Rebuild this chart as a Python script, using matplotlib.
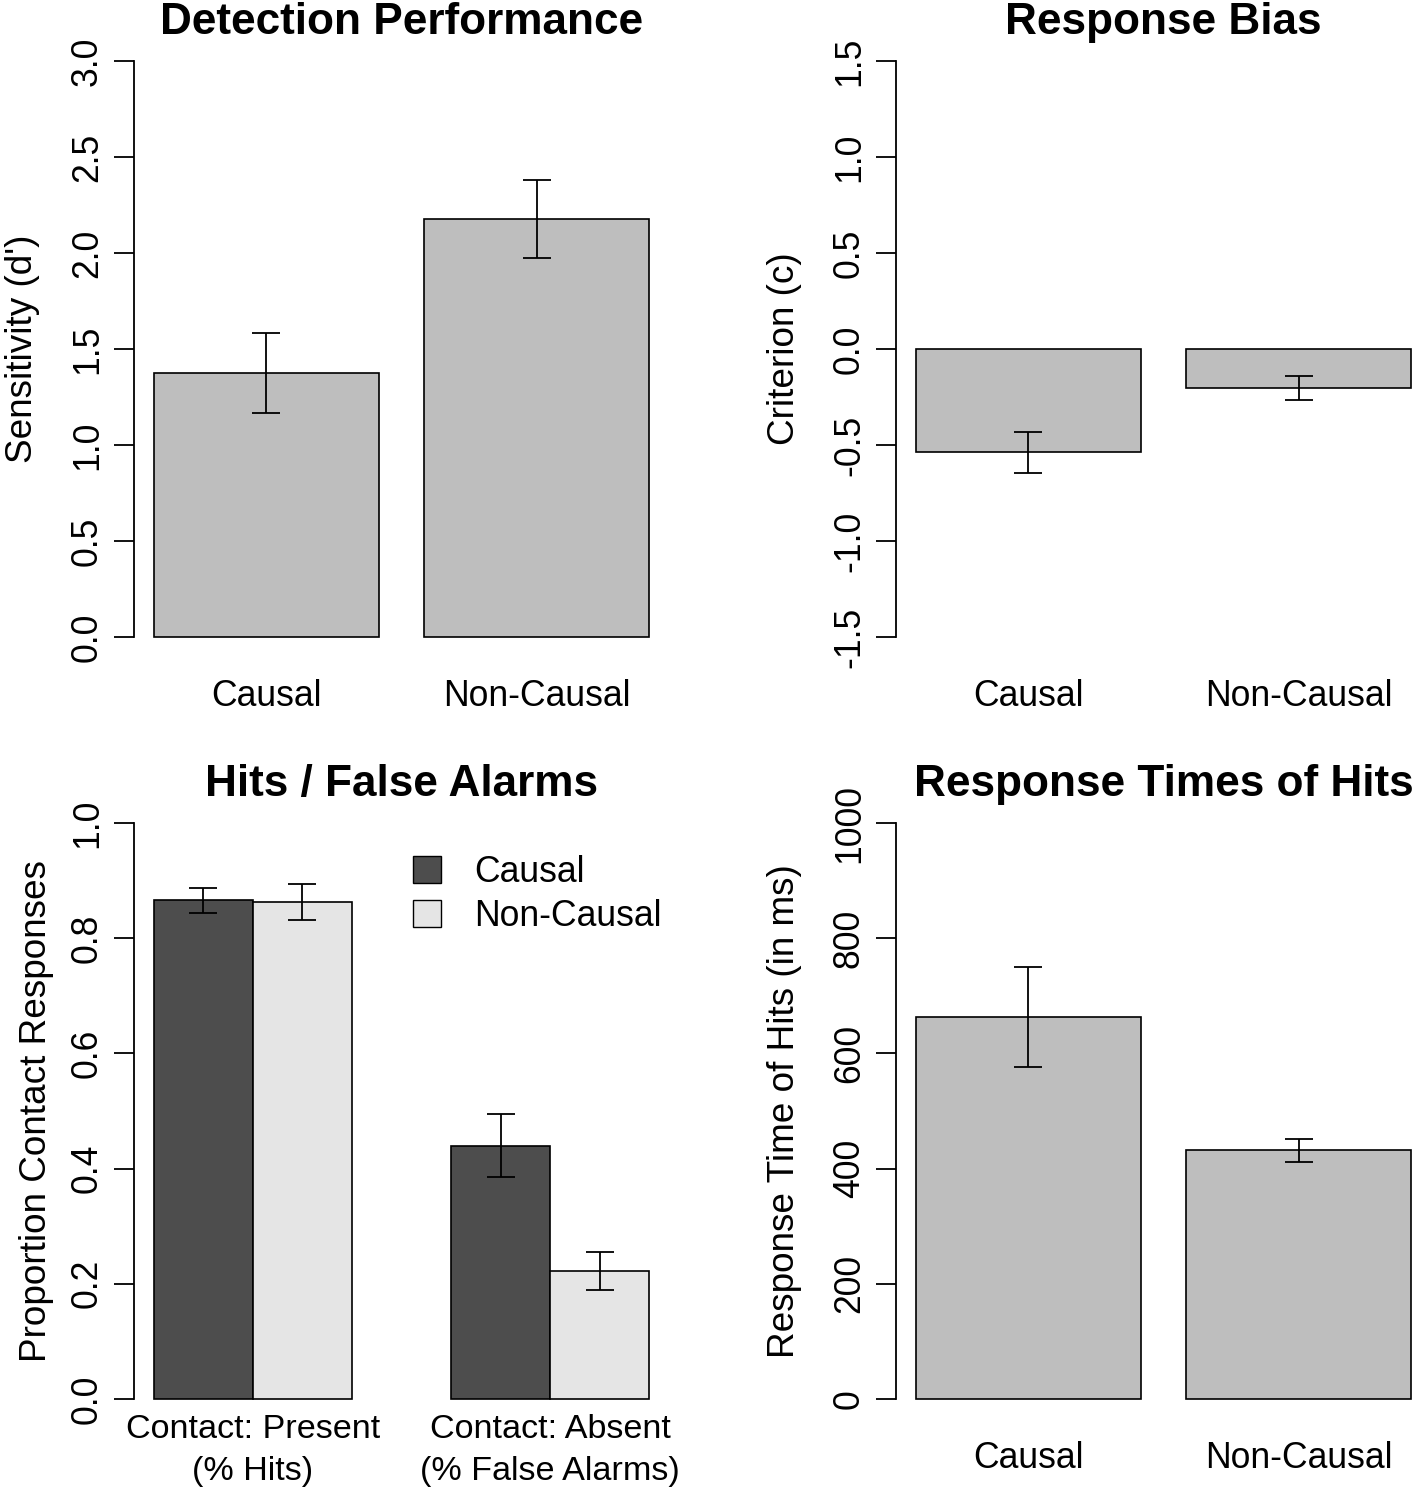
import numpy as np
import matplotlib
matplotlib.use("Agg")
import matplotlib.pyplot as plt
from matplotlib.patches import Patch


# Values (means and standard errors).
CONDITIONS = ["Causal", "Non-Causal"]

DETECTION_MEANS = [1.374, 2.176]
DETECTION_SE = [0.207, 0.202]
DETECTION_TICKS = [0.0, 0.5, 1.0, 1.5, 2.0, 2.5, 3.0]

BIAS_MEANS = [-0.538, -0.204]
BIAS_SE = [0.108, 0.064]
BIAS_TICKS = [-1.5, -1.0, -0.5, 0.0, 0.5, 1.0, 1.5]

CONTACT_GROUPS = ["Contact: Present\n(% Hits)", "Contact: Absent\n(% False Alarms)"]
HITFA_CAUSAL = [0.866, 0.440]
HITFA_CAUSAL_SE = [0.022, 0.055]
HITFA_NONCAUSAL = [0.863, 0.223]
HITFA_NONCAUSAL_SE = [0.032, 0.033]
HITFA_TICKS = [0.0, 0.2, 0.4, 0.6, 0.8, 1.0]

RT_MEANS = [663, 432]
RT_SE = [87, 20]
RT_TICKS = [0, 200, 400, 600, 800, 1000]

FIG_W, FIG_H = 1418, 1491
PANEL_W, PANEL_H = 535, 622

GREY = "#BEBEBE"
DARK = "#4D4D4D"
LIGHT = "#E5E5E5"
LW = 1.3
FS = 25.6


def add_panel(fig, left_px, top_px):
    return fig.add_axes([
        left_px / FIG_W,
        1 - (top_px + PANEL_H) / FIG_H,
        PANEL_W / FIG_W,
        PANEL_H / FIG_H,
    ])


def style_axis(ax, ticks, fmt, title, ylabel, label_x=-94):
    span = ticks[-1] - ticks[0]
    ax.set_ylim(ticks[0] - 0.04 * span, ticks[-1] + 0.04 * span)
    for side in ["top", "right", "bottom"]:
        ax.spines[side].set_visible(False)
    ax.spines["left"].set_bounds(ticks[0], ticks[-1])
    ax.spines["left"].set_linewidth(LW)
    ax.set_yticks(ticks)
    ax.set_yticklabels([fmt(t) for t in ticks])
    ax.tick_params(axis="y", length=14.4, width=LW, pad=6.5, labelsize=FS, direction="out")
    ax.tick_params(axis="x", length=0, pad=13.5, labelsize=FS)
    for lbl in ax.get_yticklabels():
        lbl.set_rotation(90)
        lbl.set_va("center")
    ax.text(0.5, 1 + 4 / PANEL_H, title, transform=ax.transAxes, ha="center",
            va="baseline", fontsize=31.8, fontweight="bold")
    ax.set_ylabel(ylabel, fontsize=26.6)
    ax.yaxis.set_label_coords(label_x / PANEL_W, 0.5)


def simple_bars(ax, means, se):
    x = 0.7 + 1.2 * np.arange(len(means))
    ax.bar(x, means, width=1.0, color=GREY, edgecolor="black", linewidth=1.2)
    ax.errorbar(x, means, yerr=se, fmt="none", ecolor="black", elinewidth=LW,
                capsize=10, capthick=LW)
    ax.set_xlim(0.2 - 0.088, 2.4 + 0.088)
    ax.set_xticks(x)
    ax.set_xticklabels(CONDITIONS)


def main():
    plt.rcParams["font.family"] = ["Liberation Sans", "DejaVu Sans"]
    plt.rcParams["axes.unicode_minus"] = False

    fig = plt.figure(figsize=(FIG_W / 100, FIG_H / 100), dpi=100)

    ax1 = add_panel(fig, 134, 38)
    simple_bars(ax1, DETECTION_MEANS, DETECTION_SE)
    style_axis(ax1, DETECTION_TICKS, lambda v: f"{v:.1f}", "Detection Performance", "Sensitivity (d')")

    ax2 = add_panel(fig, 896, 38)
    simple_bars(ax2, BIAS_MEANS, BIAS_SE)
    style_axis(ax2, BIAS_TICKS, lambda v: f"{v:.1f}", "Response Bias", "Criterion (c)")

    ax3 = add_panel(fig, 134, 800)
    groups = np.arange(len(CONTACT_GROUPS))
    x_causal = 1.5 + 3 * groups
    x_noncausal = 2.5 + 3 * groups
    ax3.bar(x_causal, HITFA_CAUSAL, width=1.0, color=DARK, edgecolor="black", linewidth=1.2)
    ax3.bar(x_noncausal, HITFA_NONCAUSAL, width=1.0, color=LIGHT, edgecolor="black", linewidth=1.2)
    ax3.errorbar(x_causal, HITFA_CAUSAL, yerr=HITFA_CAUSAL_SE, fmt="none", ecolor="black",
                 elinewidth=LW, capsize=10, capthick=LW)
    ax3.errorbar(x_noncausal, HITFA_NONCAUSAL, yerr=HITFA_NONCAUSAL_SE, fmt="none", ecolor="black",
                 elinewidth=LW, capsize=10, capthick=LW)
    ax3.set_xlim(0.8, 6.2)
    ax3.set_xticks(2 + 3 * groups)
    ax3.set_xticklabels(CONTACT_GROUPS, linespacing=1.45, fontsize=24.6)
    style_axis(ax3, HITFA_TICKS, lambda v: f"{v:.1f}", "Hits / False Alarms",
               "Proportion Contact Responses", label_x=-80)
    ax3.tick_params(axis="x", pad=-5.5, labelsize=24.6)
    handles = [Patch(facecolor=DARK, edgecolor="black", linewidth=1.0, label="Causal"),
               Patch(facecolor=LIGHT, edgecolor="black", linewidth=1.0, label="Non-Causal")]
    ax3.legend(handles=handles, loc="upper left", bbox_to_anchor=((413 - 134) / PANEL_W, 1 - 55 / PANEL_H),
               frameon=False, fontsize=FS, handlelength=0.78, handleheight=0.78,
               handletextpad=0.95, labelspacing=0.25, borderpad=0, borderaxespad=0)

    ax4 = add_panel(fig, 896, 800)
    simple_bars(ax4, RT_MEANS, RT_SE)
    style_axis(ax4, RT_TICKS, lambda v: f"{v:d}", "Response Times of Hits", "Response Time of Hits (in ms)")

    fig.savefig("out.png", dpi=100)
    plt.close(fig)


if __name__ == "__main__":
    main()
